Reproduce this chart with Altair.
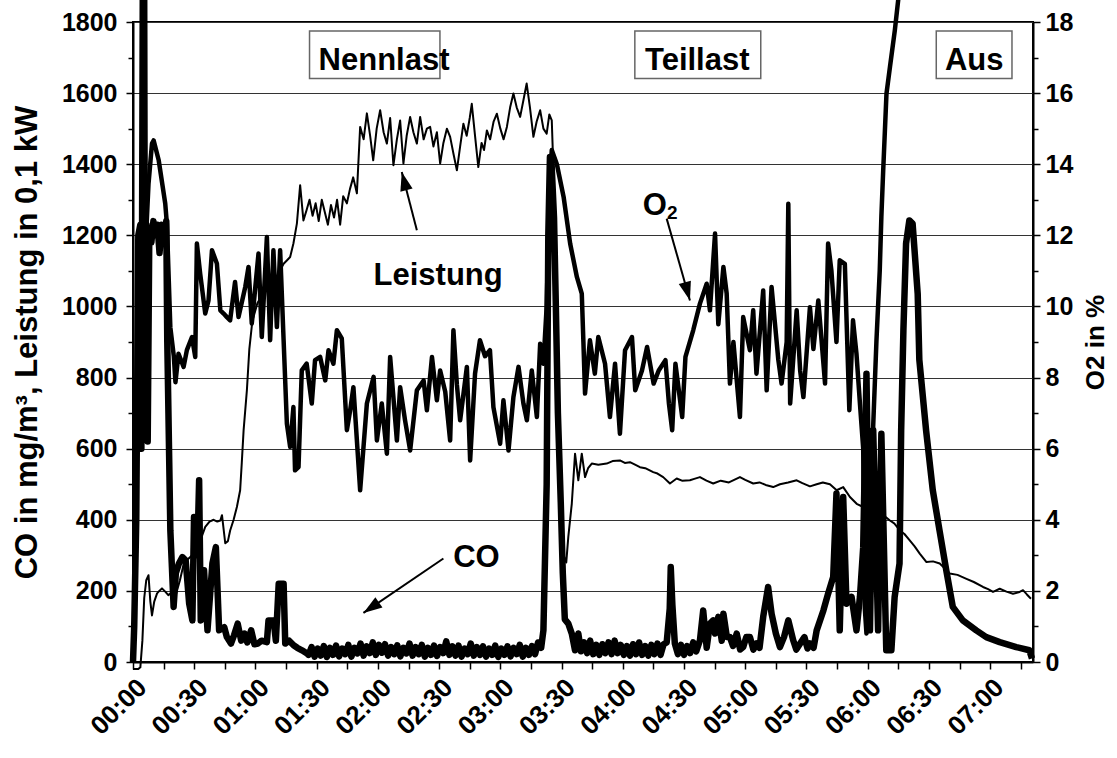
import math
import altair as alt
import pandas as pd

FONT = "Liberation Sans"
T_MAX = 441          # minutes shown on the x axis (00:00 .. ~07:21)
Y_MAX = 1800
O2_MAX = 18
W, H = 900, 640

# ---- series (time in minutes, value) ----
LEISTUNG = [(0,-20),(2.6,-20),(3.6,-15),(4.6,60),(5.5,180),(6.5,230),(7.6,244),(8.5,170),(9.3,131),(10.4,170),
 (11.8,193),(12.9,200),(14.2,207),(15.8,198),(17.3,188),(19,195),(21,190),(23,230),(25,280),(27,290),(29,300),
 (31.3,323),(33.5,350),(35.4,380),(37.5,395),(39.5,400),(41.3,395),(42.8,398),(43.6,413),(45.2,334),(46.5,340),
 (47.6,370),(49.3,400),(50.9,436),(52.5,483),(53.3,560),(54.2,652),(55.8,764),(57,880),(58.5,960),(61,1010),
 (64,1040),(67,1060),(70,1080),(72,1100),(73.8,1120),(75.5,1130),(77,1139),(78.6,1177),(80.3,1233),(81.9,1341),
 (83.5,1242),(85,1270),(86.5,1300),(88,1255),(89.5,1290),(91,1240),(92.5,1300),(94,1265),(95.5,1230),(97,1285),
 (98.5,1250),(100,1300),(101.5,1230),(103,1310),(104.8,1290),(106.3,1330),(107.9,1363),(109.7,1318),(111.3,1505),
 (113,1470),(114.6,1543),(116.2,1480),(117.7,1411),(119.4,1500),(121.1,1552),(122.8,1490),(124.4,1458),(126,1530),
 (127.6,1397),(129.3,1470),(130.9,1523),(132.5,1402),(134.1,1480),(135.8,1533),(137.4,1490),(139.1,1458),
 (140.7,1533),(142.4,1470),(144,1500),(145.6,1505),(147.2,1450),(148.9,1490),(150.5,1402),(152.1,1460),
 (153.8,1500),(155.4,1477),(157,1430),(158.7,1383),(160.3,1450),(161.9,1514),(163.5,1480),(165,1530),(166,1570),
 (167.6,1480),(169.2,1392),(170.8,1460),(172,1440),(173.4,1495),(175,1470),(176.7,1520),(178.3,1542),(180,1500),
 (181.6,1470),(183.2,1505),(184.8,1560),(186.4,1599),(188,1560),(189.7,1533),(191.3,1580),(192.9,1627),
 (194.5,1560),(196.2,1477),(197.8,1520),(199.5,1552),(201.1,1500),(202.7,1486),(204,1540),(205.2,1523),
 (206.5,1300),(208,900),(209.5,500),(211,300),(212.3,280),(213.3,352),(215,445),(216.6,586),(218.2,511),
 (219.9,586),(221.5,520),(223,545),(224.8,558),(228,555),(232.1,558),(235,565),(238.6,567),(241,560),(243.5,562),
 (246,555),(248.4,548),(251,545),(254.9,534),(257,530),(259.8,520),(263.1,502),(266.4,516),(269,510),(272.9,511),
 (275,515),(277.8,520),(281,510),(284.3,502),(288,510),(292,505),(297.4,520),(300,512),(303.9,502),(307,505),
 (310,498),(313.7,492),(317,500),(321,505),(325.2,511),(328,503),(331.7,494),(335,500),(338,505),(341.5,500),
 (344.8,483),(348,492),(351.3,464),(354.6,445),(357.8,436),(360,432),(362.7,427),(365,420),(367.6,413),
 (370.9,398),(373,390),(375.8,370),(378,360),(380.6,342),(383,325),(385.5,305),(388.8,281),(392,283),(395.3,277),
 (398,262),(400.2,249),(404,245),(408.4,234),(412,225),(416.5,211),(419,205),(421.4,197),(424.7,206),(428,198),
 (431.2,192),(434,196),(436.1,202),(438,190),(440,178)]

CO = [(0,0),(0.6,100),(1.6,400),(2.6,1200),(3.6,1230),(4.1,600),(4.6,1500),(5.2,2700),(5.9,700),(6.6,1230),
 (7.2,620),(8,1220),(9,1180),(10,1240),(11,1200),(12,1230),(13,1150),(14,1230),(15.5,1200),(16.3,1240),(16.8,900),
 (18.3,370),(19.9,155),(21,250),(22.5,277),(24.2,295),(25.8,286),(27.5,165),(29.1,117),(29.9,408),(31.5,300),
 (32.4,511),(33.2,117),(34.8,258),(36.5,89),(38.9,277),(40.6,323),(42.2,89),(44.7,98),(46,70),(48,52),(49.5,75),
 (51.3,108),(53,60),(54.6,80),(56,55),(57.9,89),(59.5,50),(61.2,52),(63,60),(65.6,56),(66.4,117),(68.9,117),
 (70,60),(71.4,220),(73.8,220),(74.6,52),(76.5,60),(78.7,47),(80.5,40),(82.8,33),(85.3,24),
 (86,20),(87.5,42),(89,15),(90.5,38),(92,18),(93.5,45),(95,14),(96.5,40),(98,20),(99.5,46),(101,16),(102.5,38),
 (104,22),(105.5,48),(107,15),(108.5,40),(110,24),(111.5,52),(113,18),(114.5,44),(116,25),(117.5,55),(119,20),
 (120.5,48),(122,26),(123.5,50),(125,18),(126.5,42),(128,22),(129.5,47),(131,16),(132.5,40),(134,24),(135.5,52),
 (137,18),(138.5,42),(140,22),(141.5,48),(143,15),(144.5,40),(146,20),(147.5,46),(149,17),(150.5,42),(152,25),
 (153.5,58),(155,20),(156.5,44),(158,18),(159.5,46),(161,15),(162.5,38),(164,22),(165.5,52),(167,18),(168.5,42),
 (170,20),(171.5,44),(173,15),(174.5,38),(176,20),(177.5,46),(179,14),(180.5,38),(182,20),(183.5,44),(185,16),
 (186.5,40),(188,22),(189.5,48),(191,15),(192.5,40),(194,20),(195.5,45),(197,22),(198.5,55),(200,40),
 (201.1,89),(202.7,500),(203.5,1200),(204.3,1420),(205.1,1400),(206.3,1250),(207.2,1000),(208.2,700),
 (209.6,450),(210.6,250),(211.6,120),(213.3,108),(215,80),(216.6,33),(218.2,80),(219.5,30),(221,55),(222.5,25),
 (224,60),(225.5,22),(227,48),(228.5,20),(230,50),(231.5,25),(233,55),(234.5,22),(236,60),(237.5,25),(239,48),
 (240.5,20),(242,45),(243.5,18),(245,50),(246.5,22),(248,55),(249.5,20),(251,45),(252.5,18),(254,48),(255.5,22),
 (257,52),(258.5,20),(260,50),(261.5,55),(263,150),(263.5,267),(264.3,160),(265.5,52),(267,22),(268.5,48),
 (270,20),(271.5,45),(273,25),(274.5,55),(276,30),(277.8,61),(279.4,145),(281.1,40),(282.7,108),(284.3,117),
 (285.2,80),(286.8,127),(288.5,60),(289.3,136),(291,70),(292.5,70),(294,45),(295.8,80),(297.5,35),(299,42),
 (300.5,70),(302.3,70),(304,35),(305.5,52),(307,40),(308.8,127),(311.2,211),(312.9,136),(315,80),(317,42),
 (319,70),(321.1,117),(323.5,61),(325,35),(326.9,52),(329,70),(330.5,38),(331.7,52),(333.5,40),(335,89),
 (338.3,145),(340.6,192),(343.1,239),(344.7,474),(346.3,89),(348,464),(349.6,164),(352.1,183),(354.5,89),
 (356.2,183),(357.8,323),(359.4,811),(361.1,89),(362.7,652),(365.1,89),(366.7,642),(369.1,33),(371.6,33),
 (373.2,183),(375.6,277),(376.4,652),(377.5,933),(378.8,1177),(380.4,1242),(382,1233),(384.5,1036),(385.3,850),
 (388.6,652),(391.9,483),(395.2,370),(398.5,258),(401.7,155),(406.6,117),(413.2,89),(418.1,70),(424.7,56),
 (432.8,42),(439.2,33),(440.5,10)]

O2 = [(0,0.0),(0.5,0.9),(1.1,2.58),(2,7.0),(3.6,10.0),(4.5,11.0),(6,11.5),(7.6,13.45),(9.3,14.58),(10.1,14.67),
 (12.6,14.11),(15.8,12.89),(16.6,12.33),(18.3,9.41),(20,8.6),(20.8,7.87),(22.3,8.67),(24.8,8.3),(26.4,8.77),
 (28.9,9.14),(30.5,8.58),(31.3,11.77),(32.9,10.93),(35.4,9.8),(37,10.17),(38.7,11.58),(41.1,11.21),(42.8,9.89),
 (44.4,9.8),(46,9.7),(47.6,9.61),(50,10.69),(51.7,9.7),(55,10.55),(56.6,11.11),(58.2,9.52),(59,9.98),(61.5,11.49),
 (63.1,9.14),(65.6,11.95),(67.2,9.05),(68.8,11.58),(70.5,9.42),(72.1,11.58),(73.8,9.05),(75.4,6.7),(77,6.05),
 (78.6,7.17),(79.4,5.39),(81.1,5.48),(82.7,8.2),(85.1,8.39),(87.6,7.27),(89.2,8.49),(91.7,8.58),(94.2,7.92),
 (95.8,8.77),(98.2,8.39),(99.9,9.33),(102.3,9.1),(104.8,6.52),(106.4,7.08),(108,7.73),(111.3,4.83),(114.6,7.27),
 (117.9,8.02),(119.5,6.23),(121.9,7.27),(124.4,5.86),(126,8.58),(129.3,6.23),(130.9,7.73),(133.3,6.8),
 (135.8,5.95),(139.1,7.64),(142.4,7.92),(144,7.08),(146.5,8.58),(148.9,7.36),(150.5,8.2),(153,7.6),(155.4,6.23),
 (157,9.33),(158.7,7.8),(160.3,6.8),(163.6,8.3),(165.2,5.67),(167.6,8.11),(170,9.05),(172.5,8.6),(174.9,8.77),
 (176.6,7.17),(179.9,6.14),(181.5,7.36),(184,5.95),(186.4,7.45),(188.9,8.3),(191.3,7.27),(193,6.8),(195.4,8.2),
 (197.9,6.89),(199.5,8.95),(201.1,8.39),(202.7,10.0),(204,13.2),(205.2,14.4),(207.7,14.0),(211,13.08),
 (214.2,11.77),(217.5,10.83),(219.9,10.36),(220.7,9.0),(221.5,7.55),(223.9,9.05),(226.3,8.11),(228,9.14),
 (231.3,8.39),(233.7,6.89),(236.2,8.39),(238.6,6.42),(241.1,8.77),(244.5,9.14),(246.1,7.64),(249.4,8.2),
 (251.9,8.86),(255.1,7.83),(257.6,8.2),(260.9,8.49),(262.6,7.27),(264.2,6.52),(265.8,8.39),(269.1,6.89),
 (270.7,8.58),(274.5,9.33),(277.8,10.08),(281.1,10.64),(282.7,9.89),(285.2,12.05),(286.8,9.5),(289.3,11.11),
 (290.9,10.36),(292.5,7.83),(294.2,9.0),(297.4,6.89),(299,9.7),(302.3,8.77),(303.9,9.89),(305.5,8.11),
 (308.8,10.45),(310.5,7.64),(312.9,10.55),(316.2,8.5),(317.8,7.83),(320.3,9.0),(321.1,12.89),(322,7.27),
 (325.2,9.89),(326.9,8.2),(328.5,7.45),(331.7,9.98),(333.4,8.8),(335.8,10.17),(339.1,7.83),(340.6,11.77),
 (342.2,11.02),(344.7,9.0),(346.3,11.3),(348.8,11.2),(351,7.08),(352.8,9.61),(354.5,8.67),(356.2,7.27),
 (357.8,6.0),(358.6,1.5),(359.4,0.8),(360.9,4.0),(362.6,6.5),(364.3,9.05),(365.9,11.0),(366.7,12.52),
 (367.6,13.83),(369.2,15.98),(370.9,16.73),(373.3,17.77),(375.3,18.8),(378,19.8),(382,20.5),(390,20.9),(441,21.0)]

# ---- annotations (data coordinates: minutes, left-axis units) ----
BOX_LABELS = ["Nennlast", "Teillast", "Aus"]
BOX_T0 = [86.5, 245.9, 393.6]
BOX_T1 = [150.4, 307.6, 430.7]
BOX_V0 = [1641, 1641, 1641]
BOX_V1 = [1775, 1775, 1775]
BOX_TEXT_T = [123.0, 276.5, 412.2]
BOX_TEXT_V = [1664, 1664, 1664]

NOTE_LABELS = ["Leistung", "CO", "O"]
NOTE_T = [149.5, 168.3, 255.7]
NOTE_V = [1059, 266, 1256]
SUB_LABEL = ["2"]
SUB_T = [264.3]
SUB_V = [1247]

ARROW_T0 = [139.1, 152.1, 261.5]
ARROW_V0 = [1214, 291, 1247]
ARROW_T1 = [131.7, 112.9, 272.9]
ARROW_V1 = [1378, 138, 1017]

# ---- frames ----
def frame(pairs, name):
    return pd.DataFrame({"t": [p[0] for p in pairs], name: [p[1] for p in pairs]})

co_df = frame(CO, "v")
lei_df = frame(LEISTUNG, "v")
o2_df = frame(O2, "o2")

ppm = W / T_MAX
ppu = H / Y_MAX
angles = [math.degrees(math.atan2((t1 - t0) * ppm, (v1 - v0) * ppu)) % 360
          for t0, v0, t1, v1 in zip(ARROW_T0, ARROW_V0, ARROW_T1, ARROW_V1)]
arrow_df = pd.DataFrame({"t0": ARROW_T0, "v0": ARROW_V0, "t1": ARROW_T1, "v1": ARROW_V1, "ang": angles})
box_df = pd.DataFrame({"t0": BOX_T0, "t1": BOX_T1, "v0": BOX_V0, "v1": BOX_V1})
box_text_df = pd.DataFrame({"t": BOX_TEXT_T, "v": BOX_TEXT_V, "label": BOX_LABELS})
note_df = pd.DataFrame({"t": NOTE_T, "v": NOTE_V, "label": NOTE_LABELS})
sub_df = pd.DataFrame({"t": SUB_T, "v": SUB_V, "label": SUB_LABEL})

x_scale = alt.Scale(domain=[0, T_MAX], nice=False, zero=False)
yl_scale = alt.Scale(domain=[0, Y_MAX], nice=False)
yr_scale = alt.Scale(domain=[0, O2_MAX], nice=False)

label_expr = ("datum.value % 30 === 0 ? ((floor(datum.value/60) < 10 ? '0' : '') + floor(datum.value/60) + ':' + "
              "(datum.value % 60 === 0 ? '00' : '30')) : ''")

x_axis = alt.Axis(values=list(range(0, 436, 15)), labelExpr=label_expr, labelAngle=315, labelAlign="right",
                  labelBaseline="middle", labelFontSize=26, labelPadding=14, labelOffset=9,
                  labelOverlap=False, labelFlush=False,
                  tickSize=7, tickWidth=1.5, domainWidth=2, grid=False, title="")

yl_axis = alt.Axis(orient="left", values=list(range(0, 1801, 200)), format="d",
                   title="CO in mg/m³, Leistung in 0,1 kW",
                   titleFontSize=31, titleAngle=270, titleX=-106, titleBaseline="middle", labelFontSize=25,
                   labelPadding=9, tickSize=7, tickWidth=1.5, domainWidth=2, grid=True, gridColor="#333",
                   gridWidth=1, gridOpacity=1, labelOverlap=False)
yr_axis = alt.Axis(orient="right", values=list(range(0, 19, 2)), format="d", title="O2 in %", titleFontSize=26,
                   titleAngle=270, titleX=62, titleBaseline="middle", labelFontSize=25, labelPadding=5,
                   tickSize=7, tickWidth=1.5, domainWidth=2, grid=False, labelOverlap=False)

X = lambda f: alt.X(f, type="quantitative", scale=x_scale, axis=x_axis)
YL = lambda f: alt.Y(f, type="quantitative", scale=yl_scale, axis=yl_axis)

co_line = alt.Chart(co_df).mark_line(color="black", strokeWidth=6.5, clip=False, strokeJoin="round").encode(
    x=X("t"), y=YL("v"), order="t:Q")
lei_line = alt.Chart(lei_df).mark_line(color="black", strokeWidth=2, clip=False, strokeJoin="round").encode(
    x=X("t"), y=YL("v"), order="t:Q")
boxes = alt.Chart(box_df).mark_rect(fill="white", stroke="#666", strokeWidth=1.5).encode(
    x=X("t0"), x2="t1", y=YL("v0"), y2="v1")
box_text = alt.Chart(box_text_df).mark_text(font=FONT, fontSize=31, fontWeight="bold", baseline="alphabetic",
                                            align="center", color="black").encode(x=X("t"), y=YL("v"), text="label")
notes = alt.Chart(note_df).mark_text(font=FONT, fontSize=31, fontWeight="bold", baseline="alphabetic",
                                     align="center", color="black").encode(x=X("t"), y=YL("v"), text="label")
sub = alt.Chart(sub_df).mark_text(font=FONT, fontSize=19, fontWeight="bold", baseline="alphabetic",
                                  align="center", color="black").encode(x=X("t"), y=YL("v"), text="label")
arrow_lines = alt.Chart(arrow_df).mark_rule(color="black", strokeWidth=2).encode(
    x=X("t0"), x2="t1", y=YL("v0"), y2="v1")
arrow_heads = alt.Chart(arrow_df).mark_point(shape="M0,0L-0.42,1.25L0.42,1.25Z", filled=True, color="black",
                                             size=900, opacity=1, strokeWidth=0).encode(
    x=X("t1"), y=YL("v1"), angle=alt.Angle("ang:Q", scale=None))

left = alt.layer(co_line, lei_line, boxes, box_text, notes, sub, arrow_lines, arrow_heads)

minor_left = alt.Chart(pd.DataFrame({"v": [0, Y_MAX]})).mark_point(opacity=0).encode(
    y=alt.Y("v:Q", scale=alt.Scale(domain=[0, Y_MAX], nice=False),
            axis=alt.Axis(orient="left", values=list(range(100, 1800, 200)), labels=False, domain=False,
                          grid=False, tickSize=5, tickWidth=1.5, title="")))

o2_line = alt.Chart(o2_df).mark_line(color="black", strokeWidth=4.5, clip=False, strokeJoin="round").encode(
    x=X("t"), y=alt.Y("o2:Q", scale=yr_scale, axis=yr_axis), order="t:Q")

minor_right = alt.Chart(pd.DataFrame({"o": [0, O2_MAX]})).mark_point(opacity=0).encode(
    y=alt.Y("o:Q", scale=alt.Scale(domain=[0, O2_MAX], nice=False),
            axis=alt.Axis(orient="right", values=list(range(1, 18, 2)), labels=False, domain=False,
                          grid=False, tickSize=5, tickWidth=1.5, title="")))

chart = alt.layer(left, minor_left, o2_line, minor_right).resolve_scale(y="independent").properties(
    width=W, height=H,
    autosize=alt.AutoSizeParams(type="none"),
    padding={"left": 133, "top": 22, "right": 84, "bottom": 96},
    background="white",
).configure_axis(
    labelFont=FONT, titleFont=FONT, labelFontWeight="bold", titleFontWeight="bold",
    labelColor="black", titleColor="black", domainColor="black", tickColor="black",
).configure_view(stroke="black", strokeWidth=2)

chart.save("out.html", embed_options={"renderer": "svg", "actions": False})
